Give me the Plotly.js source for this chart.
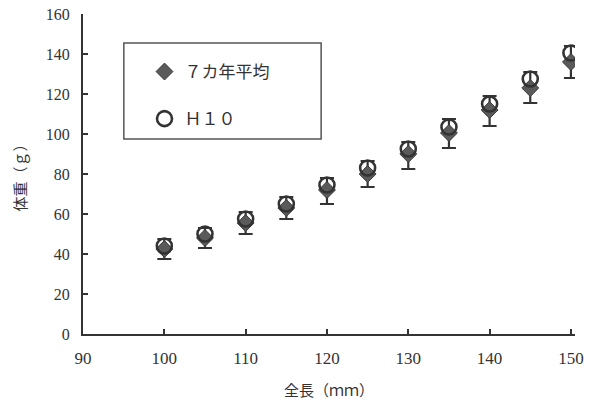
<!DOCTYPE html>
<html>
<head>
<meta charset="utf-8">
<script src="https://cdn.plot.ly/plotly-3.0.1.min.js"></script>
<style>html,body{margin:0;padding:0;background:#fff;}#chart{width:598px;height:407px;}</style>
</head>
<body>
<div id="chart"></div>
<script>
const lengths = [100, 105, 110, 115, 120, 125, 130, 135, 140, 145, 150];
const avg7 = [42.5, 48, 55.5, 63, 72, 80, 90, 100.5, 112, 123, 136];
const avg7ErrUp = [5, 5, 5.5, 5.5, 6, 6.5, 6, 7, 7, 8, 8];
const avg7ErrDown = [5, 5, 5.5, 5.5, 7, 6.5, 7.5, 7.5, 8, 7.5, 8];
const h10 = [44, 50, 57.5, 65, 74.5, 83, 92.5, 103.5, 115, 127.5, 140.5];
const yTicks = [0, 20, 40, 60, 80, 100, 120, 140, 160];
const xTicks = [90, 100, 110, 120, 130, 140, 150];

const serif = '"Liberation Serif", "DejaVu Serif", serif';
const jp = '"Noto Sans CJK JP", sans-serif';
const ink = '#333333';

const traces = [
  {
    x: lengths, y: avg7, type: 'scatter', mode: 'markers', name: '７カ年平均',
    legendgroup: 'a',
    marker: {symbol: 'diamond', size: 13, color: '#5a5a5a', line: {color: '#3a3a3a', width: 1}},
    error_y: {type: 'data', symmetric: false, array: avg7ErrUp, arrayminus: avg7ErrDown,
              visible: true, color: ink, thickness: 2.2, width: 7}
  },
  {
    x: lengths, y: h10, type: 'scatter', mode: 'markers', name: 'Ｈ１０',
    legendgroup: 'b',
    marker: {symbol: 'circle-open', size: 15, color: ink, line: {color: ink, width: 2.6}}
  }
];

const layout = {
  width: 598, height: 407,
  margin: {l: 83, r: 23, t: 14, b: 73},
  paper_bgcolor: '#ffffff', plot_bgcolor: '#ffffff',
  showlegend: true,
  legend: {
    x: 0.125, y: 0.875, xanchor: 'left', yanchor: 'top',
    bgcolor: 'rgba(0,0,0,0)', borderwidth: 0,
    font: {family: jp, size: 17, color: '#333'},
    traceorder: 'grouped', tracegroupgap: 22, itemsizing: 'trace'
  },
  shapes: [{
    type: 'rect', xref: 'paper', yref: 'paper',
    x0: 0.083, x1: 0.484, y0: 0.609, y1: 0.909,
    line: {color: '#555', width: 1.5}, fillcolor: 'rgba(0,0,0,0)', layer: 'below'
  }],
  xaxis: {
    range: [90, 150.5], tickvals: xTicks, ticktext: xTicks.map(String),
    ticks: 'inside', ticklen: 5, tickwidth: 2, tickcolor: ink,
    showline: true, linecolor: ink, linewidth: 2, showgrid: false, zeroline: false,
    ticklabelstandoff: 8,
    tickfont: {family: serif, size: 17, color: '#333'},
    title: {text: '全長（ｍｍ）', font: {family: jp, size: 15, color: '#333'}, standoff: 18}
  },
  yaxis: {
    range: [0, 160], tickvals: yTicks, ticktext: yTicks.map(String),
    ticks: 'inside', ticklen: 5, tickwidth: 2, tickcolor: ink,
    showline: true, linecolor: ink, linewidth: 2, showgrid: false, zeroline: false,
    ticklabelstandoff: 8,
    tickfont: {family: serif, size: 16, color: '#333'},
    title: {text: '体重（ｇ）', font: {family: jp, size: 15, color: '#333'}, standoff: 16}
  }
};

Plotly.newPlot('chart', traces, layout, {displayModeBar: false, staticPlot: true});
</script>
</body>
</html>
